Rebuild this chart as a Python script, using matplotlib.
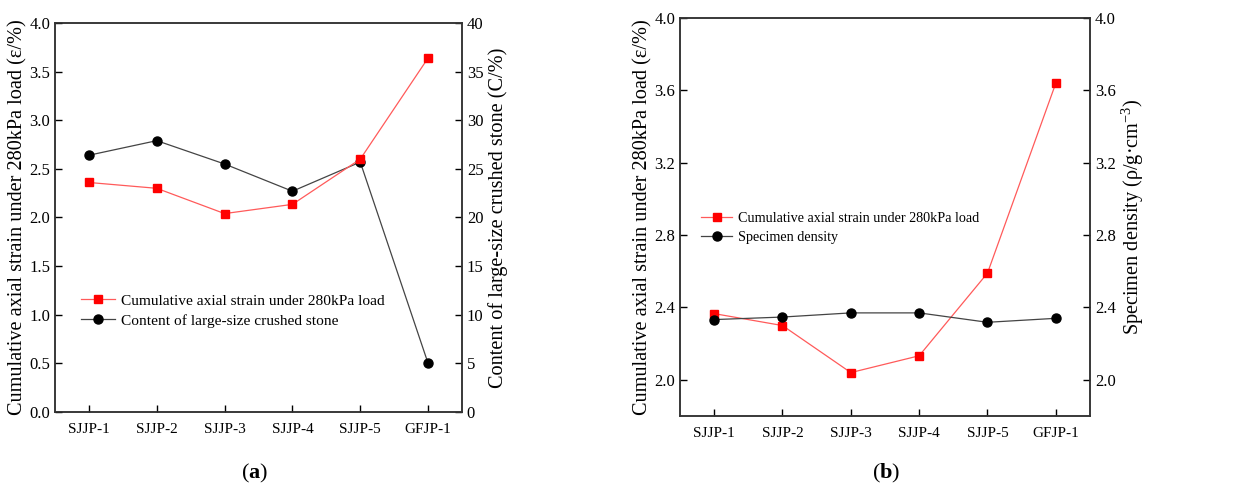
import numpy as np
import matplotlib.pyplot as plt

plt.rcParams['font.family'] = ['Liberation Serif', 'DejaVu Serif']
plt.rcParams['mathtext.fontset'] = 'custom'
plt.rcParams['mathtext.rm'] = 'Liberation Serif'
plt.rcParams['mathtext.it'] = 'Liberation Serif:italic'
plt.rcParams['mathtext.bf'] = 'Liberation Serif:bold'

# Data
samples = ['SJJP-1', 'SJJP-2', 'SJJP-3', 'SJJP-4', 'SJJP-5', 'GFJP-1']
strain = [2.36, 2.30, 2.04, 2.135, 2.60, 3.64]          # cumulative axial strain (%)
content = [26.4, 27.9, 25.5, 22.7, 25.7, 5.0]            # large-size crushed stone (%)
density = [2.333, 2.347, 2.37, 2.37, 2.318, 2.34]       # specimen density (g/cm3)
strain_b = [2.366, 2.30, 2.04, 2.133, 2.59, 3.64]

lab_strain = 'Cumulative axial strain under 280kPa load'
lab_content = 'Content of large-size crushed stone'
lab_density = 'Specimen density'

fs_lab = 14.6
x = np.arange(len(samples))

fig = plt.figure(figsize=(12.47, 4.86), dpi=100)


def style(ax):
    ax.tick_params(direction='in', length=5, width=1, labelsize=12)
    ax.tick_params(axis='x', labelsize=11, pad=8)
    for s in ax.spines.values():
        s.set_linewidth(1.1)
        s.set_color('#333333')


# ---- panel (a) ----
ax1 = fig.add_axes([0.0441, 0.1523, 0.3264, 0.8004])
ax1r = ax1.twinx()
l1, = ax1.plot(x, strain, color='#ff5a5a', lw=0.9, marker='s', ms=6,
               mfc='#ff0000', mec='#ff0000', label=lab_strain, zorder=3)
l2, = ax1r.plot(x, content, color='#444444', lw=0.9, marker='o', ms=6.5,
                mfc='black', mec='black', label=lab_content)
ax1.set_xlim(-0.5, 5.5)
ax1.set_ylim(0, 4)
ax1.set_yticks(np.arange(0, 4.01, 0.5))
ax1.set_yticklabels([f'{v:.1f}' for v in np.arange(0, 4.01, 0.5)])
ax1r.set_ylim(0, 40)
ax1r.set_yticks(np.arange(0, 41, 5))
ax1.set_xticks(x)
ax1.set_xticklabels(samples)
ax1.set_ylabel(lab_strain + ' (ε/%)', fontsize=fs_lab, labelpad=1)
ax1r.set_ylabel(lab_content + ' (C/%)', fontsize=fs_lab, labelpad=3)
style(ax1)
style(ax1r)
ax1.legend(handles=[l1, l2], loc='center left', bbox_to_anchor=(0.03, 0.26),
           frameon=False, fontsize=11.1, handlelength=2.2, handletextpad=0.4,
           labelspacing=0.4)
ax1r.set_zorder(0)
ax1.set_zorder(1)
ax1.patch.set_visible(False)

# ---- panel (b) ----
ax2 = fig.add_axes([0.5453, 0.144, 0.3288, 0.819])
ax2r = ax2.twinx()
l3, = ax2.plot(x, strain_b, color='#ff5a5a', lw=0.9, marker='s', ms=6,
               mfc='#ff0000', mec='#ff0000', label=lab_strain, zorder=3)
l4, = ax2r.plot(x, density, color='#444444', lw=0.9, marker='o', ms=6.5,
                mfc='black', mec='black', label=lab_density)
ax2.set_xlim(-0.5, 5.5)
ax2.set_ylim(1.8, 4.0)
ax2r.set_ylim(1.8, 4.0)
ticks_b = np.arange(2.0, 4.01, 0.4)
ax2.set_yticks(ticks_b)
ax2.set_yticklabels([f'{v:.1f}' for v in ticks_b])
ax2r.set_yticks(ticks_b)
ax2r.set_yticklabels([f'{v:.1f}' for v in ticks_b])
ax2.set_xticks(x)
ax2.set_xticklabels(samples)
ax2.set_ylabel(lab_strain + ' (ε/%)', fontsize=fs_lab, labelpad=1)
ax2r.set_ylabel(r'Specimen density (ρ/g·cm$^{-3}$)', fontsize=fs_lab, labelpad=3)
style(ax2)
style(ax2r)
ax2.legend(handles=[l3, l4], loc='center left', bbox_to_anchor=(0.02, 0.472),
           frameon=False, fontsize=10.2, handlelength=2.2, handletextpad=0.4,
           labelspacing=0.45)

fig.text(0.2045, 0.025, r'($\mathbf{a}$)', ha='center', va='center', fontsize=16)
fig.text(0.711, 0.025, r'($\mathbf{b}$)', ha='center', va='center', fontsize=16)

fig.savefig('out.png', dpi=100)
